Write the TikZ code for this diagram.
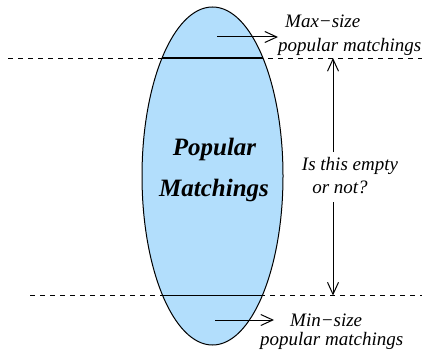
\documentclass[tikz,border=0pt]{standalone}
\usepackage{fontspec}
\setmainfont{Liberation Serif}
\usetikzlibrary{arrows.meta}
\definecolor{setblue}{RGB}{178,222,252}
\tikzset{
  lbl/.style={font=\fontsize{19}{23}\selectfont\itshape, inner sep=0pt},
  big/.style={font=\fontsize{25}{30}\selectfont\bfseries\itshape, inner sep=0pt},
  level/.style={dash pattern=on 5pt off 5pt, line width=0.8pt},
  pointer/.style={-{Straight Barb[length=12pt,width=11pt]}, line width=1pt},
}
\begin{document}
\begin{tikzpicture}[x=1pt,y=-1pt]
\useasboundingbox (0,0) rectangle (427,350);
% the set of popular matchings
\path[fill=setblue, draw=black, line width=1pt] (212.5,176) ellipse [x radius=70.5, y radius=169];
% cut levels
\coordinate (tl) at (8,58);
\coordinate (tr) at (422,58);
\coordinate (bl) at (30,295.5);
\coordinate (br) at (422,295.5);
\draw[level] (tl) -- (tr);
\draw[level] (bl) -- (br);
% chords inside the ellipse
\begin{scope}
  \clip (212.5,176) ellipse [x radius=70.5, y radius=169];
  \draw[line width=1.2pt] (130,58) -- (300,58);
  \draw[line width=1.2pt] (130,295.5) -- (300,295.5);
\end{scope}
\node[big, anchor=base] (pa) at (214.5,155) {Popular};
\node[big, anchor=base] (pb) at (214,196) {Matchings};
% labels
\node[lbl, anchor=base west] (maxa) at (285,28) {Max−size};
\node[lbl, anchor=base west] (maxb) at (278,52) {popular matchings};
\node[lbl, anchor=base west] (mina) at (290,326) {Min−size};
\node[lbl, anchor=base west] (minb) at (260,345) {popular matchings};
\node[lbl, anchor=base] (qa) at (350,170) {Is this empty};
\node[lbl, anchor=base] (qb) at (340,193) {or not?};
\coordinate (ta) at (217,37);
\coordinate (tb) at (278,37);
\coordinate (ba) at (215,320);
\coordinate (bb) at (274,320);
\draw[pointer] (ta) -- (tb);
\draw[pointer] (ba) -- (bb);
% gap measure
\coordinate (m1) at (333,58);
\coordinate (m2) at (333,295.5);
\coordinate (g1) at (333,152);
\coordinate (g2) at (333,202);
\draw[pointer] (g1) -- (m1);
\draw[pointer] (g2) -- (m2);
\end{tikzpicture}
\end{document}
